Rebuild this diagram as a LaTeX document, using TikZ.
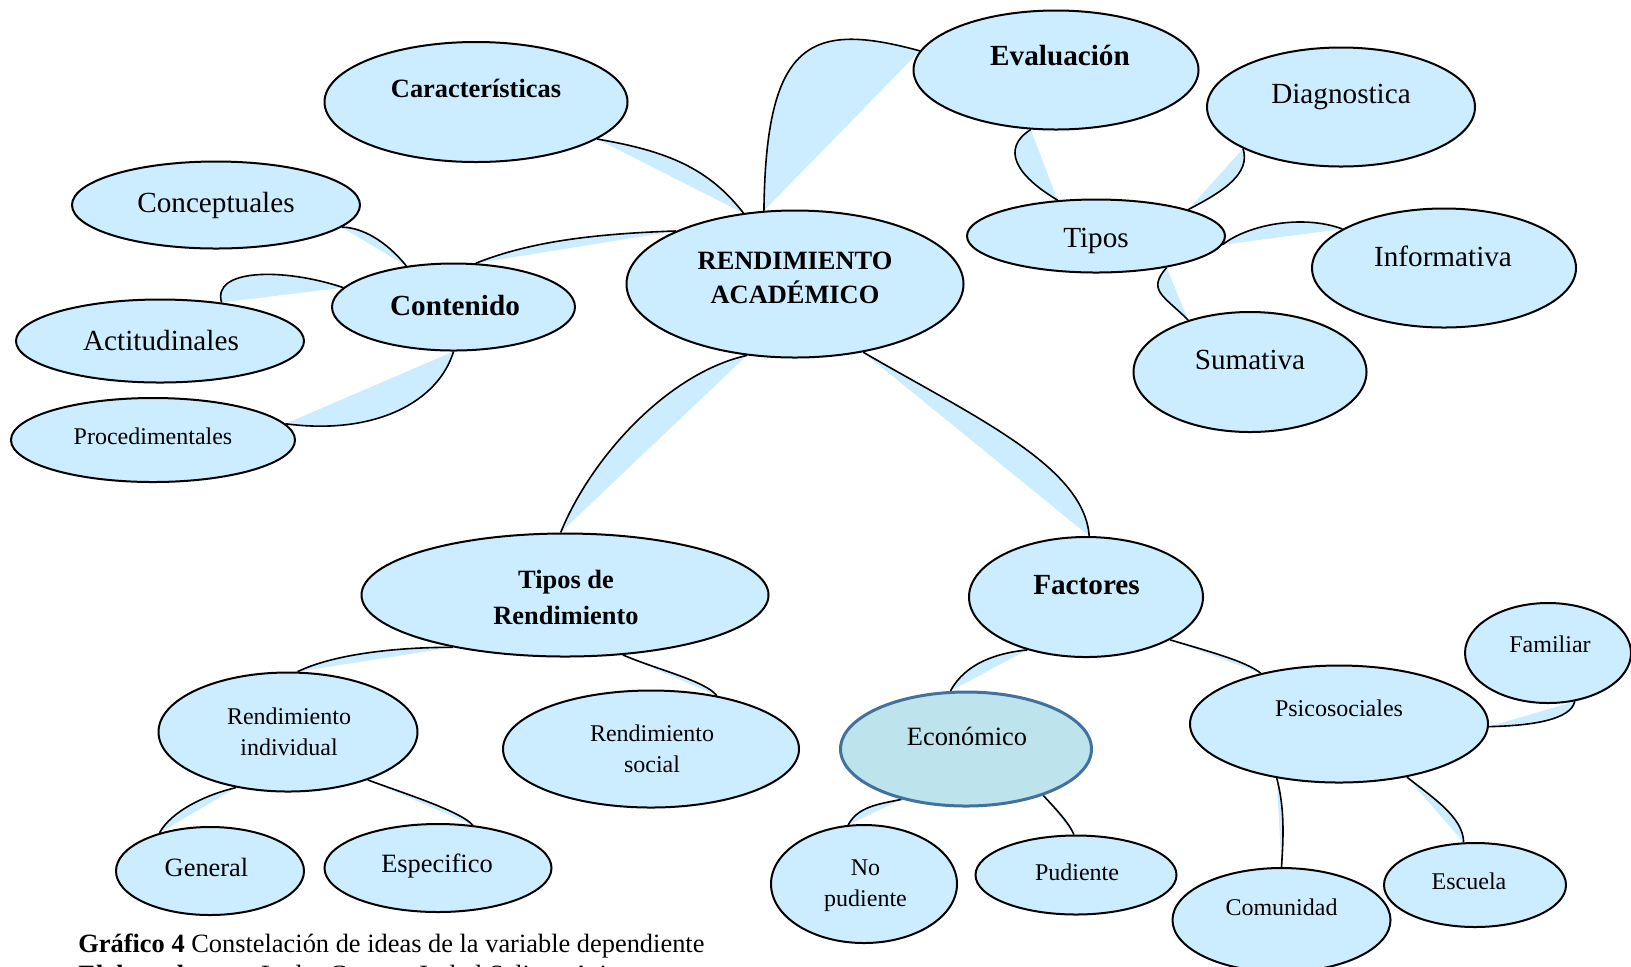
\documentclass[tikz,border=0pt]{standalone}
\usepackage{fontspec}
\setmainfont{Liberation Serif}
\usetikzlibrary{shapes.geometric}
\pgfdeclarelayer{background}
\pgfsetlayers{background,main}
\definecolor{bubblefill}{RGB}{204,236,255}
\definecolor{econfill}{RGB}{189,227,236}
\definecolor{econline}{RGB}{65,113,156}
\newcommand{\Link}[4]{%
  \fill[LinkFill] (#1) .. controls +(#3) and +(#4) .. (#2) -- cycle;
  \draw[LinkLine] (#1) .. controls +(#3) and +(#4) .. (#2);}
\tikzset{Bubble/.style={
    ellipse,
    inner sep=0pt,
    draw=black,
    line width=1pt,
    fill=bubblefill,
    },
    Dims/.style 2 args={minimum width=#1*0.5pt, minimum height=#2*0.5pt},
    LinkFill/.style={fill=bubblefill},
    LinkLine/.style={draw=black, line width=0.8pt},
}

\begin{document}
\begin{tikzpicture}[x=0.5pt, y=-0.5pt,
    Big/.style={font=\fontsize{14.6}{17}\selectfont, align=center},
    Mid/.style={font=\fontsize{13.2}{17}\selectfont, align=center},
    Small/.style={font=\fontsize{12}{15.5}\selectfont, align=center},
]
\useasboundingbox (0,0) rectangle (1631,966);

\node [Bubble, Dims={337}{147}] (rend) at (795,284) {};
\node [Mid, font=\fontsize{13.2}{17}\selectfont\bfseries] (rendT) at (795,278) {RENDIMIENTO\\ACADÉMICO};
\node [Bubble, Dims={303}{120}] (carac) at (476,102) {};
\node [Mid, font=\fontsize{13.2}{17}\selectfont\bfseries] (caracT) at (476,88) {Características};
\node [Bubble, Dims={285}{119}] (eval) at (1056,70) {};
\node [Big, font=\fontsize{14.6}{17}\selectfont\bfseries] (evalT) at (1060,56) {Evaluación};
\node [Bubble, Dims={268}{119}] (diag) at (1341,107) {};
\node [Big] (diagT) at (1341,97) {Diagnostica};
\node [Bubble, Dims={258}{73}] (tipos) at (1096,236) {};
\node [Big] (tiposT) at (1096,241) {Tipos};
\node [Bubble, Dims={264}{119}] (info) at (1444,268) {};
\node [Big] (infoT) at (1443,256) {Informativa};
\node [Bubble, Dims={233}{120}] (sum) at (1250,372) {};
\node [Big] (sumT) at (1250,360) {Sumativa};
\node [Bubble, Dims={288}{87}] (conc) at (216,205) {};
\node [Big] (concT) at (216,205) {Conceptuales};
\node [Bubble, Dims={243}{87}] (cont) at (453.5,307) {};
\node [Big, font=\fontsize{14.6}{17}\selectfont\bfseries] (contT) at (455,305) {Contenido};
\node [Bubble, Dims={288}{83}] (acti) at (160,341) {};
\node [Big] (actiT) at (161,340) {Actitudinales};
\node [Bubble, Dims={284}{84}] (proc) at (153,440) {};
\node [Small] (procT) at (153,436) {Procedimentales};
\node [Bubble, Dims={407}{123}] (tdr) at (565,595) {};
\node [Mid, font=\fontsize{13.2}{18}\selectfont\bfseries] (tdrT) at (566,597) {Tipos de\\Rendimiento};
\node [Bubble, Dims={234}{120}] (fact) at (1086,597) {};
\node [Big, font=\fontsize{14.6}{17}\selectfont\bfseries] (factT) at (1086.5,585) {Factores};
\node [Bubble, Dims={259}{119}] (rind) at (288,732) {};
\node [Small] (rindT) at (289,731.5) {Rendimiento\\individual};
\node [Bubble, Dims={296}{117}] (rsoc) at (651,749) {};
\node [Small] (rsocT) at (652,749) {Rendimiento\\social};
\node [Bubble, Dims={251}{114}, fill=econfill, draw=econline, line width=1.5pt] (econ) at (966,749) {};
\node [Mid] (econT) at (967,736.5) {Económico};
\node [Bubble, Dims={298}{117}] (psi) at (1339,724) {};
\node [Small] (psiT) at (1339,708) {Psicosociales};
\node [Bubble, Dims={166}{100}] (fam) at (1548,653) {};
\node [Small] (famT) at (1550,644) {Familiar};
\node [Bubble, Dims={188}{88}] (gen) at (210,871) {};
\node [Mid] (genT) at (206.5,867.5) {General};
\node [Bubble, Dims={227}{88}] (esp) at (438,868) {};
\node [Mid] (espT) at (437,865.5) {Especifico};
\node [Bubble, Dims={186}{118}] (nop) at (864,884) {};
\node [Small] (nopT) at (865.5,886) {No\\pudiente};
\node [Bubble, Dims={201}{79}] (pud) at (1076,875) {};
\node [Small] (pudT) at (1077,872) {Pudiente};
\node [Bubble, Dims={218}{104}] (com) at (1281.5,920) {};
\node [Small] (comT) at (1281.5,907) {Comunidad};
\node [Bubble, Dims={182}{84}] (esc) at (1475,885) {};
\node [Small] (escT) at (1469,881) {Escuela};

\node [Mid, anchor=base west, inner sep=0pt] (cap) at (78,952) {\textbf{Gráfico 4} Constelación de ideas de la variable dependiente};
\node [Mid, anchor=base west, inner sep=0pt] (autor) at (78,983) {\textbf{Elaborado por:} Lcda. Carmen Isabel Salinas Arias};

% connectors behind the bubbles
\begin{pgfonlayer}{background}
\Link{carac.-17}{rend.126}{70,12}{-35,-45}
\Link{rend.113}{eval.172}{2,-170}{-110,-30}
\Link{rend.156}{cont.63}{-90,3}{50,-20}
\Link{rend.236}{tdr.94}{-80,18}{30,-74}
\Link{rend.-45}{fact.87}{110,64}{-5,-70}
\Link{eval.-113}{tipos.137}{-30,19}{-42,-25}
\Link{tipos.16}{diag.203}{35,-18}{8,25}
\Link{tipos.-4}{info.159}{25,-20}{-40,-15}
\Link{tipos.-24}{sum.140}{-20,23}{-25,-25}
\Link{conc.-10}{cont.139}{20,0}{-20,-25}
\Link{cont.170}{acti.32}{-60,-20}{-10,-34}
\Link{cont.-90}{proc.7}{-15,50}{90,12}
\Link{tdr.205}{rind.81}{-60,0}{35,-17}
\Link{tdr.-46}{rsoc.39}{35,15}{-12,-15}
\Link{rind.-133}{gen.143}{-30,7}{12,-22}
\Link{rind.-31}{esp.51}{35,13}{-12,-14}
\Link{fact.-138}{econ.105}{-30,3}{15,-28}
\Link{fact.-27}{psi.147}{40,12}{-15,-12}
\Link{econ.-142}{nop.105}{-25,5}{10,-18}
\Link{econ.-31}{pud.93}{12,13}{-5,-12}
\Link{psi.-1}{fam.-61}{45,-1}{-4,18}
\Link{psi.-139}{com.90}{8,30}{2,-30}
\Link{psi.-38}{esc.105}{25,20}{0,-25}
\end{pgfonlayer}
\end{tikzpicture}
\end{document}
